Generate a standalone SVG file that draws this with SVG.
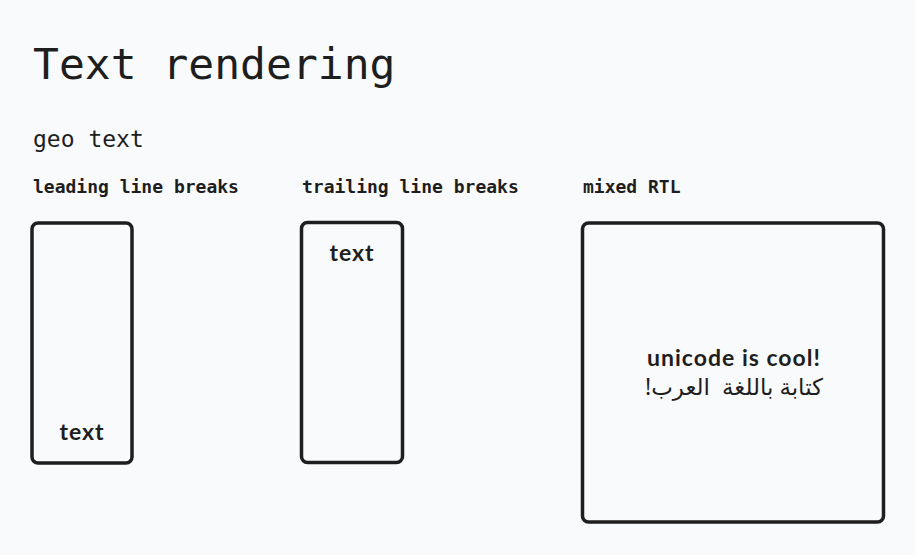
<svg xmlns="http://www.w3.org/2000/svg" width="915" height="555" viewBox="0 0 915 555">
<style>
.mono{font-family:"DejaVu Sans Mono","Liberation Mono",monospace;fill:#1e1e1e}
.box{fill:none;stroke:#1e1e1e;stroke-width:3.5;stroke-linejoin:round}
.hand{font-family:"Lato","Noto Sans",sans-serif;font-weight:bold;font-size:23px;letter-spacing:1px;fill:#1e1e1e;text-anchor:middle}
.ar{font-family:"Noto Sans","DejaVu Sans",sans-serif;font-size:23px;fill:#1e1e1e;text-anchor:middle}
</style>
<rect width="915" height="555" fill="#f9fafb"/>
<text class="mono" x="33" y="79" font-size="43">Text rendering</text>
<text class="mono" x="33" y="147" font-size="23">geo text</text>
<text class="mono" x="33" y="193" font-size="18" font-weight="bold">leading line breaks</text>
<text class="mono" x="302" y="193" font-size="18" font-weight="bold">trailing line breaks</text>
<text class="mono" x="583" y="193" font-size="18" font-weight="bold">mixed RTL</text>
<g id="node-leading">
<rect class="box" x="32" y="223" width="100" height="240" rx="6"/>
<text class="hand" x="82" y="440">text</text>
</g>
<g id="node-trailing">
<rect class="box" x="301.5" y="222.5" width="101" height="240" rx="6"/>
<text class="hand" x="352" y="261">text</text>
</g>
<g id="node-rtl">
<rect class="box" x="582.5" y="223" width="301" height="299" rx="6"/>
<text class="hand" x="734" y="366">unicode is cool!</text>
<text class="ar" x="734" y="395" direction="rtl" xml:space="preserve">كتابة باللغة  العرب!</text>
</g>
<g id="connectors"/>
</svg>
